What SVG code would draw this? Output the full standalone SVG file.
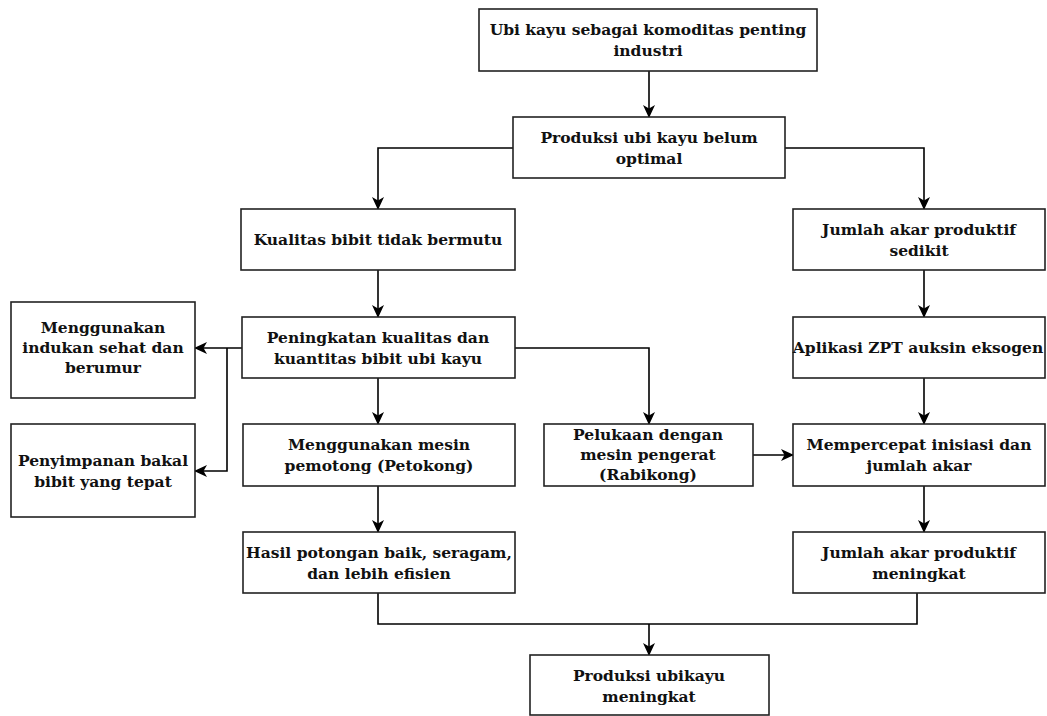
<svg xmlns="http://www.w3.org/2000/svg" width="1047" height="716" viewBox="0 0 1047 716">
<defs>
<marker id="arr" markerUnits="userSpaceOnUse" markerWidth="13" markerHeight="13" viewBox="0 0 13 13" refX="12" refY="6.5" orient="auto">
<path d="M0,0.5 L13,6.5 L0,12.5 L3.5,6.5 Z" fill="#000"/>
</marker>
<style>
.box{fill:#fff;stroke:#222;stroke-width:1.6}
.t{font-family:"DejaVu Serif","Liberation Serif",serif;font-weight:bold;font-size:15.5px;fill:#111;text-anchor:middle}
.c{fill:none;stroke:#000;stroke-width:1.6}
.a{marker-end:url(#arr)}
</style>
</defs>
<rect width="1047" height="716" fill="#fff"/>
<g id="connectors">
<path class="c a" d="M649,71 V117"/>
<path class="c a" d="M513,148 H378 V209"/>
<path class="c a" d="M785,148 H924 V209"/>
<path class="c a" d="M378,270 V317"/>
<path class="c a" d="M242,348 H195"/>
<path class="c a" d="M227,348 V471 H195"/>
<path class="c a" d="M378,378 V424"/>
<path class="c a" d="M515,348 H649 V424"/>
<path class="c a" d="M378,486 V532"/>
<path class="c" d="M378,593 V624 H917 V593"/>
<path class="c a" d="M649,624 V655"/>
<path class="c a" d="M924,270 V317"/>
<path class="c a" d="M924,378 V424"/>
<path class="c a" d="M753,455 H793"/>
<path class="c a" d="M924,486 V532"/>
</g>
<g id="n1"><rect class="box" x="479" y="9" width="338" height="62"/>
<text class="t" x="648" y="35">Ubi kayu sebagai komoditas penting</text><text class="t" x="648" y="56">industri</text></g>
<g id="n2"><rect class="box" x="513" y="117" width="272" height="61"/>
<text class="t" x="649" y="143">Produksi ubi kayu belum</text><text class="t" x="649" y="164">optimal</text></g>
<g id="n3"><rect class="box" x="241" y="209" width="274" height="61"/>
<text class="t" x="378" y="245">Kualitas bibit tidak bermutu</text></g>
<g id="n4"><rect class="box" x="793" y="209" width="252" height="61"/>
<text class="t" x="919" y="235">Jumlah akar produktif</text><text class="t" x="919" y="256">sedikit</text></g>
<g id="n5"><rect class="box" x="242" y="317" width="273" height="61"/>
<text class="t" x="378" y="343">Peningkatan kualitas dan</text><text class="t" x="378" y="364">kuantitas bibit ubi kayu</text></g>
<g id="n6"><rect class="box" x="11" y="302" width="184" height="96"/>
<text class="t" x="103" y="333">Menggunakan</text><text class="t" x="103" y="353">indukan sehat dan</text><text class="t" x="103" y="373">berumur</text></g>
<g id="n7"><rect class="box" x="793" y="317" width="252" height="61"/>
<text class="t" x="918" y="353">Aplikasi ZPT auksin eksogen</text></g>
<g id="n8"><rect class="box" x="11" y="424" width="184" height="93"/>
<text class="t" x="103" y="466">Penyimpanan bakal</text><text class="t" x="103" y="487">bibit yang tepat</text></g>
<g id="n9"><rect class="box" x="243" y="424" width="272" height="62"/>
<text class="t" x="379" y="450">Menggunakan mesin</text><text class="t" x="379" y="471">pemotong (Petokong)</text></g>
<g id="n10"><rect class="box" x="544" y="424" width="209" height="62"/>
<text class="t" x="648" y="440">Pelukaan dengan</text><text class="t" x="648" y="460">mesin pengerat</text><text class="t" x="648" y="480">(Rabikong)</text></g>
<g id="n11"><rect class="box" x="793" y="424" width="252" height="62"/>
<text class="t" x="919" y="450">Mempercepat inisiasi dan</text><text class="t" x="919" y="471">jumlah akar</text></g>
<g id="n12"><rect class="box" x="243" y="532" width="272" height="61"/>
<text class="t" x="379" y="558">Hasil potongan baik, seragam,</text><text class="t" x="379" y="579">dan lebih efisien</text></g>
<g id="n13"><rect class="box" x="793" y="532" width="252" height="61"/>
<text class="t" x="919" y="558">Jumlah akar produktif</text><text class="t" x="919" y="579">meningkat</text></g>
<g id="n14"><rect class="box" x="530" y="655" width="239" height="60"/>
<text class="t" x="649" y="681">Produksi ubikayu</text><text class="t" x="649" y="702">meningkat</text></g>
</svg>
